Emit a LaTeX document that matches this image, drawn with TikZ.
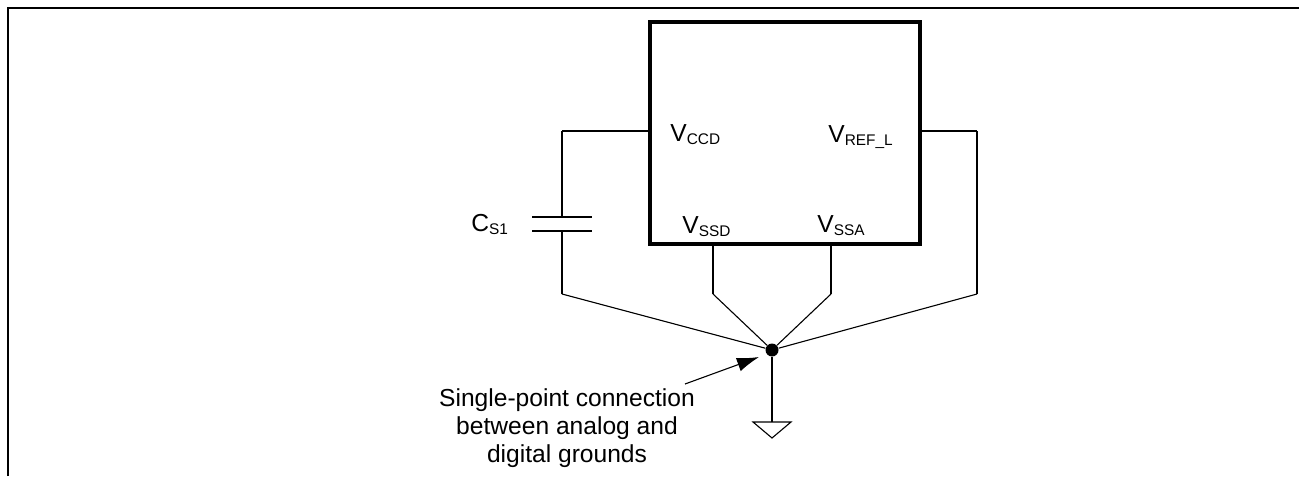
\documentclass[tikz,border=0pt]{standalone}
\usepackage{fontspec}
\setmainfont{Liberation Sans}
\usetikzlibrary{arrows.meta}
\tikzstyle{wire}=[line width=0.55pt]
\tikzstyle{dot}=[circle, inner sep=0pt, minimum size=6.5pt, fill=black]
\tikzstyle{pin}=[inner sep=0pt, anchor=base west]
\tikzstyle{chip}=[draw, line width=1.9pt, inner sep=0pt, minimum width=135pt, minimum height=111pt]
\newcommand{\pinsub}[1]{\raisebox{-1.6pt}{\fontsize{7.7}{8}\selectfont #1}}

\begin{document}
\begin{tikzpicture}[x=0.5pt, y=-0.5pt, font=\fontsize{12.3}{14.1}\selectfont]
    \useasboundingbox (0,0) rectangle (1299,476);
    \draw[line width=1.4pt] (8,476) -- (8,8) -- (1299,8);
    \node[chip] (ic) at (785,133) {};
    % pin labels
    \node[pin] (lccd) at (670,141) {V\pinsub{CCD}};
    \node[pin] (lref) at (828,142) {V\pinsub{REF\_L}};
    \node[pin] (lssd) at (682,233) {V\pinsub{SSD}};
    \node[pin] (lssa) at (817,232) {V\pinsub{SSA}};
    \node[pin] (lcs) at (471,231) {C\pinsub{S1}};
    % pins and bends
    \coordinate (vccd) at (650,131);
    \coordinate (vref) at (920,131);
    \coordinate (vssd) at (713,244);
    \coordinate (vssa) at (831,244);
    \coordinate (c1) at (562,131);
    \coordinate (ctop) at (562,217);
    \coordinate (cbot) at (562,231);
    \coordinate (k1) at (562,294);
    \coordinate (k2) at (713,294);
    \coordinate (k3) at (831,294);
    \coordinate (r1) at (977,131);
    \coordinate (k4) at (977,294);
    \coordinate (gnd) at (772,422);
    \node[dot] (J) at (772,350) {};
    \foreach \from/\to in
      {vccd/c1, c1/ctop, cbot/k1, k1/J, vssd/k2, k2/J, vssa/k3, k3/J,
       vref/r1, r1/k4, k4/J, J/gnd}
    \draw[wire] (\from) -- (\to);
    % capacitor plates
    \draw[wire] (532,217) -- (592,217);
    \draw[wire] (532,231) -- (592,231);
    % ground
    \draw[wire] (753,422) -- (791,422) -- (772,438) -- cycle;
    % note
    \node[align=center, inner sep=0pt, anchor=north] (note) at (567,388)
      {Single-point connection\\between analog and\\digital grounds};
    \coordinate (tail) at (685,384);
    \coordinate (tip) at (759,357);
    \draw[wire, -{Latex[length=11pt, width=7pt]}] (tail) -- (tip);
\end{tikzpicture}
\end{document}
